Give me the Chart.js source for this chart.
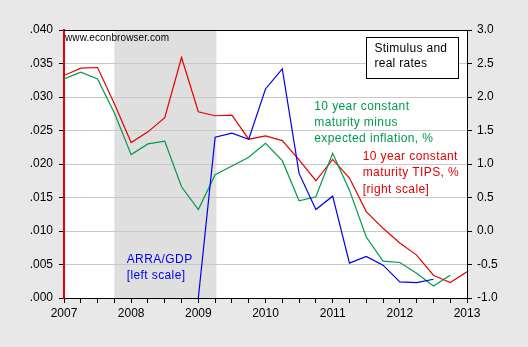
<!DOCTYPE html>
<html>
<head>
<meta charset="utf-8">
<script src="https://cdn.jsdelivr.net/npm/chart.js@4/dist/chart.umd.min.js"></script>
<style>
html,body{margin:0;padding:0;background:#e8e8e8;}
canvas{display:block;}
</style>
</head>
<body>
<canvas id="c" width="528" height="347"></canvas>
<script>
// Quarters (decimal years)
const quarters = [2007.0,2007.25,2007.5,2007.75,2008.0,2008.25,2008.5,2008.75,
  2009.0,2009.25,2009.5,2009.75,2010.0,2010.25,2010.5,2010.75,
  2011.0,2011.25,2011.5,2011.75,2012.0,2012.25,2012.5,2012.75,2013.0];

// ARRA/GDP (left scale)
const arraGdp = [null,null,null,null,null,null,null,null,
  0.0000,0.0240,0.0246,0.0237,0.0312,0.0342,0.0186,0.0132,
  0.0152,0.0052,0.0062,0.0049,0.0024,0.0023,0.0028,null,null];

// 10y constant maturity minus expected inflation (left scale)
const realRate = [0.0327,0.0337,0.0327,0.0276,0.0214,0.0230,0.0234,0.0166,
  0.0132,0.0184,0.0197,0.0210,0.0231,0.0205,0.0145,0.0151,
  0.0216,0.0161,0.0091,0.0055,0.0053,0.0037,0.0018,0.0034,null];

// 10y TIPS, % (right scale)
const tips = [2.32,2.43,2.44,1.90,1.32,1.48,1.69,2.59,
  1.78,1.72,1.73,1.37,1.42,1.35,1.06,0.75,
  1.07,0.79,0.29,0.04,-0.18,-0.36,-0.66,-0.77,-0.61];

const yearLabels = ['2007','2008','2009','2010','2011','2012','2013'];
const recession = [2007.75, 2009.27];

const RED = '#e60000', GREEN = '#009a4c', BLUE = '#0000ee';
const FONT = '"Liberation Sans", Arial, sans-serif';

function pts(arr){ return quarters.map((q,i)=>({x:q, y:arr[i]})); }

const decor = {
  id: 'decor',
  beforeDraw(chart){
    const {ctx, chartArea:a, scales} = chart;
    ctx.save();
    ctx.fillStyle = '#e8e8e8';
    ctx.fillRect(0,0,chart.width,chart.height);
    ctx.fillStyle = '#ffffff';
    ctx.fillRect(a.left,a.top,a.right-a.left,a.bottom-a.top);
    const x0 = scales.x.getPixelForValue(recession[0]);
    const x1 = scales.x.getPixelForValue(recession[1]);
    ctx.fillStyle = '#dfdfdf';
    ctx.fillRect(x0,a.top,x1-x0,a.bottom-a.top);
    ctx.restore();
  },
  afterDraw(chart){
    const {ctx, chartArea:a, scales} = chart;
    const X = v=>scales.x.getPixelForValue(v);
    const Y = v=>scales.y.getPixelForValue(v);
    ctx.save();
    // top frame
    ctx.strokeStyle = '#000';
    ctx.lineWidth = 1;
    ctx.beginPath();
    ctx.moveTo(a.left, a.top+0.5);
    ctx.lineTo(a.right, a.top+0.5);
    ctx.stroke();
    ctx.textBaseline = 'middle';
    ctx.textAlign = 'left';
    // watermark
    ctx.font = '10px ' + FONT;
    ctx.fillStyle = '#000';
    ctx.letterSpacing = '0.1px';
    ctx.fillText('www.econbrowser.com', a.left+1, a.top+8);
    // stimulus box
    const bx0 = Math.round(X(2011.496))+0.5, bx1 = Math.round(X(2012.861))+0.5;
    const by0 = Math.round(Y(0.0390))+0.5, by1 = Math.round(Y(0.0328))+0.5;
    ctx.fillStyle = '#fff';
    ctx.fillRect(bx0,by0,bx1-bx0,by1-by0);
    ctx.strokeStyle = '#000';
    ctx.strokeRect(bx0,by0,bx1-bx0,by1-by0);
    ctx.fillStyle = '#000';
    ctx.font = '12px ' + FONT;
    ctx.letterSpacing = '0.3px';
    ctx.fillText('Stimulus and', X(2011.621), Y(0.0372));
    ctx.fillText('real rates', X(2011.621), Y(0.0349));
    // green label
    ctx.letterSpacing = '0.4px';
    ctx.fillStyle = GREEN;
    const gx = X(2010.726), gy = Y(0.0285);
    ['10 year constant','maturity minus','expected inflation, %'].forEach((t,i)=>ctx.fillText(t,gx,gy+i*16));
    // red label
    ctx.fillStyle = RED;
    const rx = X(2011.447), ry = Y(0.0211);
    ['10 year constant','maturity TIPS, %','[right scale]'].forEach((t,i)=>ctx.fillText(t,rx,ry+i*16.3));
    // blue label
    ctx.fillStyle = BLUE;
    const bxl = X(2007.933), byl = Y(0.00567);
    ['ARRA/GDP','[left scale]'].forEach((t,i)=>ctx.fillText(t,bxl,byl+i*16));
    ctx.restore();
  }
};

new Chart(document.getElementById('c'), {
  type: 'line',
  data: {
    datasets: [
      {label:'ARRA/GDP', data: pts(arraGdp), yAxisID:'y', borderColor:BLUE, borderWidth:1.2, pointRadius:0, tension:0, spanGaps:false},
      {label:'10y minus expected inflation', data: pts(realRate), yAxisID:'y', borderColor:GREEN, borderWidth:1.2, pointRadius:0, tension:0, spanGaps:false},
      {label:'10y TIPS', data: pts(tips), yAxisID:'y1', borderColor:RED, borderWidth:1.2, pointRadius:0, tension:0, spanGaps:false}
    ]
  },
  options: {
    responsive:false, animation:false, devicePixelRatio:1,
    layout:{padding:{top:30,left:0,right:0,bottom:0}},
    plugins:{legend:{display:false}, tooltip:{enabled:false}},
    scales:{
      x:{
        type:'linear', min:2007, max:2013,
        afterFit(s){ s.height = 49; },
        afterBuildTicks(s){ s.ticks = quarters.map(q=>({value:q})); },
        grid:{drawOnChartArea:false, drawTicks:true, tickLength:5, color:'#000', tickColor:'#000'},
        border:{display:true, color:'#000', width:1},
        ticks:{autoSkip:false, maxRotation:0, padding:3, color:'#000', font:{family:FONT,size:12},
          callback(v){ const i = yearLabels.indexOf(String(v)); return Number.isInteger(v) && i>=0 ? yearLabels[i] : ''; }}
      },
      y:{
        type:'linear', position:'left', min:0, max:0.04,
        afterFit(s){ s.width = 64; },
        grid:{color:'#c8c8c8', lineWidth:1, tickLength:5, tickColor:'#000'},
        border:{display:true, color:RED, width:2},
        ticks:{stepSize:0.005, padding:6, color:'#000', font:{family:FONT,size:12},
          callback(v){ return v.toFixed(3).replace(/^0/,''); }}
      },
      y1:{
        type:'linear', position:'right', min:-1, max:3,
        afterFit(s){ s.width = 61; },
        grid:{drawOnChartArea:false, tickLength:5, tickColor:'#000'},
        border:{display:true, color:'#000', width:1},
        ticks:{stepSize:0.5, padding:5, color:'#000', font:{family:FONT,size:12},
          callback(v){ return v.toFixed(1); }}
      }
    }
  },
  plugins:[decor]
});
</script>
</body>
</html>
